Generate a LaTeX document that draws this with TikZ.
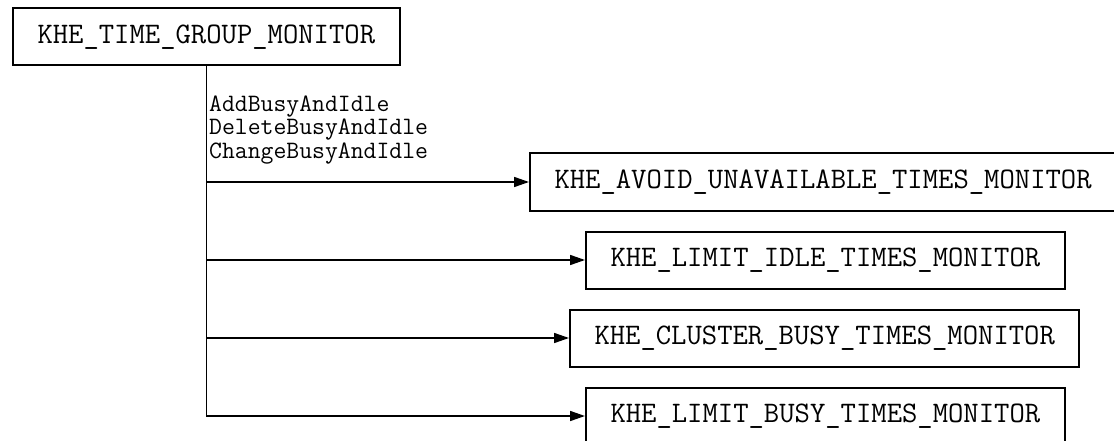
\documentclass[tikz,border=0pt]{standalone}
\usepackage{fontspec}
\usetikzlibrary{arrows.meta}
\tikzset{
  mbox/.style={draw=black, line width=2pt, inner xsep=24.5pt, inner ysep=0pt,
    minimum height=57pt, font=\ttfamily\fontsize{29.8}{32}\selectfont, anchor=west},
  conn/.style={draw=black, line width=1.6pt},
  arr/.style={conn, -{Triangle[length=15pt,width=10pt]}},
  lbl/.style={font=\ttfamily\fontsize{25}{23.5}\selectfont, align=left, inner sep=0pt, anchor=west}
}
\begin{document}
\begin{tikzpicture}[x=1pt,y=-1pt]
\clip (0,0) rectangle (1114,441);
\useasboundingbox (0,0) rectangle (1114,441);
\node[mbox] (top) at (12,37) {KHE\_TIME\_GROUP\_MONITOR};
\node[mbox] (b1) at (529,182) {KHE\_AVOID\_UNAVAILABLE\_TIMES\_MONITOR};
\node[mbox] (b2) at (585,260) {KHE\_LIMIT\_IDLE\_TIMES\_MONITOR};
\node[mbox] (b3) at (569,338) {KHE\_CLUSTER\_BUSY\_TIMES\_MONITOR};
\node[mbox] (b4) at (585,416) {KHE\_LIMIT\_BUSY\_TIMES\_MONITOR};
\node[lbl] (ops) at (209,130) {AddBusyAndIdle\\DeleteBusyAndIdle\\ChangeBusyAndIdle};
\draw[arr] (top.south) -- (top.south |- b4.west) -- (b4.west);
\draw[arr] (top.south |- b1.west) -- (b1.west);
\draw[arr] (top.south |- b2.west) -- (b2.west);
\draw[arr] (top.south |- b3.west) -- (b3.west);
\end{tikzpicture}
\end{document}
